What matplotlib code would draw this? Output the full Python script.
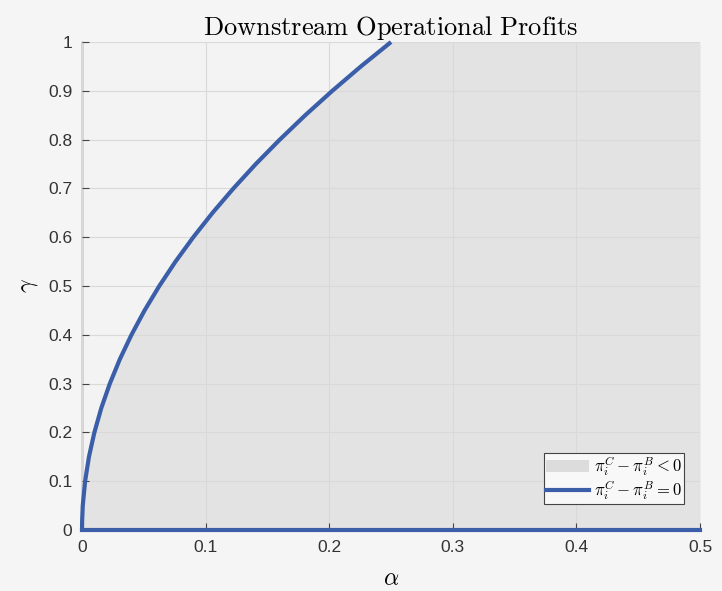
import numpy as np
import matplotlib.pyplot as plt
from matplotlib.patches import Patch
from matplotlib.lines import Line2D

plt.rcParams['mathtext.fontset'] = 'cm'
plt.rcParams['font.family'] = ['Liberation Sans', 'DejaVu Sans']

# boundary curve (gamma -> alpha)
GAMMA = [0.0, 0.02, 0.05, 0.1, 0.15, 0.2, 0.25, 0.3, 0.35, 0.4, 0.45, 0.5,
         0.55, 0.6, 0.65, 0.7, 0.75, 0.8, 0.85, 0.9, 0.95, 1.0]
ALPHA = [0.0, 0.0001, 0.0006, 0.0025, 0.0056, 0.01, 0.0156, 0.0225, 0.0306, 0.04, 0.0506, 0.0625,
         0.0756, 0.09, 0.1056, 0.1225, 0.1406, 0.16, 0.1806, 0.2025, 0.2256, 0.25]
# gamma = 0 boundary along the bottom
BOTTOM_ALPHA = [0.0, 0.5]
BOTTOM_GAMMA = [0.0, 0.0]

XTICKS = [0, 0.1, 0.2, 0.3, 0.4, 0.5]
YTICKS = [0, 0.1, 0.2, 0.3, 0.4, 0.5, 0.6, 0.7, 0.8, 0.9, 1]

blue = '#3b5ea8'
fig = plt.figure(figsize=(7.22, 5.91), dpi=100, facecolor='#f5f5f5')
ax = fig.add_axes([0.1136, 0.1032, 0.856, 0.8257])
ax.set_facecolor('#f3f3f3')

ax.fill_betweenx(GAMMA, ALPHA, 0.5, color='#e3e3e3', linewidth=0, zorder=1)
ax.plot(ALPHA, GAMMA, color=blue, lw=3.0, zorder=3, clip_on=False, solid_capstyle='butt')
ax.plot(BOTTOM_ALPHA, BOTTOM_GAMMA, color=blue, lw=3.0, zorder=3, clip_on=False)

ax.set_xlim(0, 0.5)
ax.set_ylim(0, 1)
ax.set_xticks(XTICKS)
ax.set_xticklabels(['0', '0.1', '0.2', '0.3', '0.4', '0.5'])
ax.set_yticks(YTICKS)
ax.set_yticklabels(['0', '0.1', '0.2', '0.3', '0.4', '0.5', '0.6', '0.7', '0.8', '0.9', '1'])
ax.grid(True, color='#d9d9d9', lw=0.8, zorder=2)
ax.set_axisbelow(False)
for s in ['top', 'right']:
    ax.spines[s].set_visible(False)
for s in ['left', 'bottom']:
    ax.spines[s].set_color('#555555')
    ax.spines[s].set_linewidth(1.0)
ax.tick_params(direction='in', length=5, colors='#444444', labelsize=12.5, pad=7)
for t in ax.get_xticklabels() + ax.get_yticklabels():
    t.set_color('#333333')

ax.set_title(r'$\mathrm{Downstream\ Operational\ Profits}$', fontsize=19, pad=5)
ax.set_xlabel(r'$\alpha$', fontsize=17, labelpad=10)
ax.set_ylabel(r'$\gamma$', fontsize=17, labelpad=6, rotation=90)

handles = [Patch(facecolor='#dcdcdc', edgecolor='none'),
           Line2D([0], [0], color=blue, lw=3.0)]
labels = [r'$\pi_i^C - \pi_i^B < 0$', r'$\pi_i^C - \pi_i^B = 0$']
leg = ax.legend(handles, labels, loc='lower right', bbox_to_anchor=(0.974, 0.053),
                fontsize=12, frameon=True, fancybox=False, framealpha=1,
                handlelength=2.6, handletextpad=0.3, borderpad=0.1, labelspacing=0.05,
                borderaxespad=0)
leg.get_frame().set_edgecolor('#444444')
leg.get_frame().set_facecolor('#f8f8f8')
leg.get_frame().set_linewidth(0.8)

fig.savefig('out.png', dpi=100, facecolor=fig.get_facecolor())
